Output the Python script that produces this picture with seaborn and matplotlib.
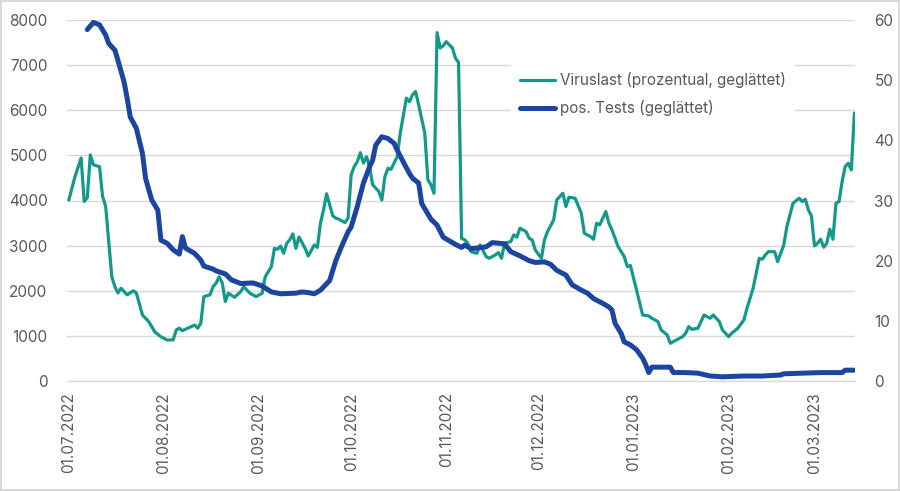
import matplotlib
matplotlib.use("Agg")
import matplotlib.pyplot as plt
import matplotlib.dates as mdates
import seaborn as sns
import pandas as pd

START = "2022-07-01"

# Viruslast (left axis), day offset from 01.07.2022
green_day = [0, 2, 4, 5, 6, 7, 8, 10, 11, 12, 14, 15, 16, 17, 19, 21, 22, 24, 26, 28,
             30, 32, 34, 35, 36, 37, 41, 42, 43, 44, 46, 47, 48, 49, 50, 51, 52, 54, 56, 57,
             59, 61, 63, 64, 66, 67, 68, 69, 70, 71, 72, 73, 74, 75, 77, 78, 80, 81, 82, 83,
             84, 86, 87, 88, 90, 91, 92, 93, 94, 95, 96, 97, 98, 99, 101, 102, 103, 104, 105, 107,
             108, 110, 111, 112, 113, 114, 116, 117, 118, 119, 120, 121, 122, 123, 124, 125, 126, 127, 128, 129,
             130, 131, 132, 133, 134, 136, 137, 139, 140, 141, 142, 144, 145, 146, 147, 149, 150, 151, 152, 154,
             155, 156, 158, 159, 160, 161, 162, 163, 165, 167, 168, 170, 171, 172, 173, 174, 175, 176, 177, 179,
             181, 182, 183, 185, 187, 189, 190, 192, 193, 195, 196, 198, 200, 201, 202, 203, 205, 206, 207, 209,
             210, 212, 213, 215, 216, 218, 220, 221, 223, 225, 226, 227, 228, 230, 231, 233, 234, 236, 238, 239,
             240, 241, 242, 243, 244, 245, 246, 247, 248, 249, 250, 251, 252, 253, 254, 255, 256]
green_val = [4010, 4530, 4940, 3980, 4060, 5010, 4790, 4750, 4090, 3870, 2310, 2090, 1950, 2055, 1910, 2000, 1950, 1460, 1320, 1090,
             980, 910, 910, 1130, 1170, 1115, 1240, 1170, 1280, 1870, 1910, 2090, 2170, 2310, 2170, 1760, 1945, 1855, 1980, 2090,
             1945, 1870, 1945, 2310, 2535, 2940, 2920, 2990, 2830, 3050, 3130, 3260, 2940, 3190, 2940, 2770, 3015, 2960, 3500, 3790,
             4150, 3660, 3610, 3585, 3510, 3610, 4570, 4750, 4860, 5060, 4830, 4970, 4750, 4350, 4200, 4010, 4530, 4715, 4690, 4970,
             5490, 6270, 6190, 6340, 6415, 6120, 5490, 4460, 4350, 4160, 7720, 7380, 7430, 7520, 7450, 7380, 7155, 7060, 3160, 3130,
             3050, 2870, 2845, 2830, 3015, 2756, 2720, 2794, 2845, 2720, 3052, 3089, 3237, 3186, 3385, 3311, 3164, 3126, 2905, 2720,
             3126, 3311, 3570, 4013, 4087, 4161, 3865, 4072, 4050, 3718, 3274, 3200, 3141, 3496, 3460, 3607, 3754, 3496, 3348, 2978,
             2756, 2535, 2560, 2018, 1463, 1441, 1390, 1315, 1131, 1020, 836, 909, 982, 1057, 1204, 1146, 1168, 1315, 1463, 1390,
             1463, 1315, 1131, 982, 1057, 1168, 1353, 1612, 2055, 2720, 2698, 2794, 2867, 2867, 2646, 3015, 3422, 3940, 4050, 3976,
             4028, 3792, 3659, 2993, 3052, 3141, 2963, 3052, 3363, 3141, 3940, 3976, 4419, 4752, 4826, 4678, 5936]

# pos. Tests (right axis)
blue_day = [6, 8, 10, 12, 13, 15, 16, 18, 19, 20, 22, 24, 25, 27, 29, 30, 32, 34, 36, 37,
            38, 41, 43, 44, 47, 48, 51, 53, 56, 60, 63, 66, 69, 74, 76, 78, 80, 82, 85, 87,
            89, 91, 92, 94, 96, 98, 99, 100, 102, 104, 106, 107, 109, 111, 112, 114, 115, 118, 120, 122,
            124, 126, 128, 129, 131, 133, 136, 138, 142, 144, 147, 150, 152, 155, 157, 159, 162, 164, 167, 169,
            171, 174, 176, 177, 178, 180, 181, 183, 185, 187, 188, 189, 190, 196, 197, 201, 205, 209, 213, 220,
            226, 232, 233, 239, 245, 252, 253, 256]
blue_val = [58.4, 59.6, 59.2, 57.5, 56.1, 55.0, 53.3, 49.7, 47.0, 43.9, 42.0, 37.8, 33.7, 30.1, 28.4, 23.4, 22.9, 21.8, 21.1, 24.0,
            22.1, 21.2, 20.1, 19.1, 18.6, 18.3, 17.8, 16.8, 16.2, 16.3, 15.8, 14.8, 14.5, 14.6, 14.8, 14.7, 14.5, 15.1, 16.7, 20.0,
            22.5, 24.8, 25.6, 29.0, 32.9, 35.6, 36.7, 39.2, 40.6, 40.3, 39.5, 38.4, 36.4, 34.5, 33.7, 32.9, 29.5, 26.9, 25.9, 23.9,
            23.3, 22.7, 22.2, 22.6, 22.0, 22.1, 22.3, 23.0, 22.8, 21.5, 20.8, 20.0, 19.7, 19.8, 19.4, 18.4, 17.6, 16.0, 15.1, 14.6,
            13.7, 12.9, 12.3, 11.8, 9.6, 7.9, 6.5, 6.0, 5.2, 3.8, 2.7, 1.4, 2.3, 2.3, 1.4, 1.4, 1.3, 0.83, 0.7, 0.83,
            0.83, 1.0, 1.2, 1.3, 1.4, 1.4, 1.8, 1.8]

label_green = "Viruslast (prozentual, geglättet)"
label_blue = "pos. Tests (geglättet)"
tick_months = ["2022-07-01", "2022-08-01", "2022-09-01", "2022-10-01", "2022-11-01",
               "2022-12-01", "2023-01-01", "2023-02-01", "2023-03-01"]
left_ticks = [0, 1000, 2000, 3000, 4000, 5000, 6000, 7000, 8000]
right_ticks = [0, 10, 20, 30, 40, 50, 60]

GREEN = "#13998a"
BLUE = "#1b45a0"
TXT = "#595959"
GRID = "#d9d9d9"

sns.set_theme(style="white")
plt.rcParams["font.family"] = ["Inter", "DejaVu Sans"]

start = pd.Timestamp(START)
dg = pd.DataFrame({"date": start + pd.to_timedelta(green_day, unit="D"), "val": green_val})
db = pd.DataFrame({"date": start + pd.to_timedelta(blue_day, unit="D"), "val": blue_val})

fig = plt.figure(figsize=(9, 4.91), dpi=100)
fig.patch.set_edgecolor(GRID)
fig.patch.set_linewidth(1.5)
ax = fig.add_axes([67 / 900, 1 - 381 / 491, (855 - 67) / 900, (381 - 20) / 491])
ax2 = ax.twinx()

sns.lineplot(data=dg, x="date", y="val", ax=ax, color=GREEN, linewidth=2.3, label=label_green, legend=False)
sns.lineplot(data=db, x="date", y="val", ax=ax2, color=BLUE, linewidth=3.6, label=label_blue, legend=False)

ax.set_ylim(0, 8000)
ax2.set_ylim(0, 60)
ax.set_yticks(left_ticks)
ax2.set_yticks(right_ticks)
ax.set_xlim(start - pd.Timedelta(days=0.6), start + pd.Timedelta(days=256.2))
ax.set_xticks(pd.to_datetime(tick_months))
ax.xaxis.set_major_formatter(mdates.DateFormatter("%d.%m.%Y"))

ax.grid(axis="y", color=GRID, linewidth=1.0)
ax.grid(axis="x", visible=False)
ax2.grid(False)
for a in (ax, ax2):
    for s in a.spines.values():
        s.set_visible(False)
ax.spines["bottom"].set_visible(True)
ax.spines["bottom"].set_color(GRID)
ax.spines["bottom"].set_linewidth(1.0)

ax.tick_params(axis="x", labelrotation=90, labelsize=11, colors=TXT, length=0, pad=8)
ax.tick_params(axis="y", labelsize=11, colors=TXT, length=0, pad=14)
ax2.tick_params(axis="y", labelsize=11, colors=TXT, length=0, pad=14)
ax.set_xlabel("")
ax.set_ylabel("")
ax2.set_ylabel("")

h1, l1 = ax.get_legend_handles_labels()
h2, l2 = ax2.get_legend_handles_labels()
leg = ax2.legend(h1 + h2, l1 + l2, loc="center left",
                 bbox_to_anchor=(503 / 900, 1 - 94 / 491), bbox_transform=fig.transFigure,
                 frameon=True, facecolor="white", edgecolor="none", framealpha=1, fancybox=False,
                 fontsize=11, handlelength=2.3, handletextpad=0.3, labelspacing=0.8,
                 borderpad=0.6)
for t in leg.get_texts():
    t.set_color(TXT)

fig.savefig("out.png", dpi=100)
